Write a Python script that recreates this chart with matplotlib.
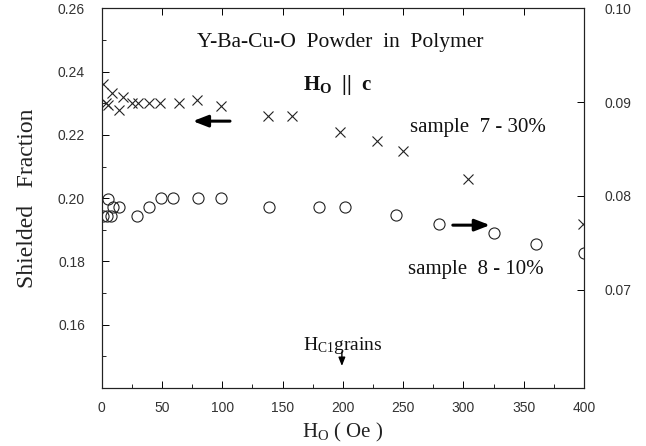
import matplotlib
matplotlib.use("Agg")
import matplotlib.pyplot as plt
from matplotlib.ticker import MultipleLocator, FixedLocator

plt.rcParams['mathtext.fontset'] = 'custom'
plt.rcParams['mathtext.rm'] = 'Liberation Serif'
plt.rcParams['mathtext.bf'] = 'Liberation Serif:bold'
plt.rcParams['mathtext.it'] = 'Liberation Serif:italic'

# sample 7 - 30% (crosses, left axis)
h_cross = [1, 3.6, 5.5, 8.5, 14, 18, 25, 30, 39, 48, 64, 79, 99, 138, 158, 198, 228, 250, 304, 399]
f_cross = [0.236, 0.2302, 0.2295, 0.2333, 0.228, 0.232, 0.230, 0.230, 0.230, 0.230, 0.2302,
           0.231, 0.229, 0.226, 0.226, 0.221, 0.218, 0.215, 0.206, 0.192]

# sample 8 - 10% (circles, right axis)
h_circ = [1.3, 4.1, 7.5, 5.5, 9.1, 14.6, 29.5, 39, 49, 59, 80, 99, 139, 180, 202, 244, 280, 325, 360, 400]
f_circ = [0.0778, 0.0778, 0.0778, 0.0797, 0.0788, 0.0788, 0.0778, 0.0788, 0.0798, 0.0798,
          0.0798, 0.0798, 0.0788, 0.0788, 0.0788, 0.0780, 0.0770, 0.0760, 0.0749, 0.0739]

x_ticks = [0, 50, 100, 150, 200, 250, 300, 350, 400]
left_ticks = [0.16, 0.18, 0.20, 0.22, 0.24, 0.26]
right_ticks = [0.07, 0.08, 0.09, 0.10]

W, H = 646, 446
fig = plt.figure(figsize=(W / 100, H / 100), dpi=100)
ax_l, ax_r, ax_b, ax_t = 101.7, 584, 388, 8.4
ax = fig.add_axes([ax_l / W, 1 - ax_b / H, (ax_r - ax_l) / W, (ax_b - ax_t) / H])
ax2 = ax.twinx()

serif = 'Liberation Serif'
sans = 'Liberation Sans'
tc = '#333333'

ax.plot(h_cross, f_cross, linestyle='none', marker='x', markersize=7.5, mew=0.8,
        color='#222222')
ax2.plot(h_circ, f_circ, linestyle='none', marker='o', markersize=8, mew=0.8,
         mfc='none', mec='#222222')

ax.set_xlim(0, 400)
ax.set_ylim(0.14, 0.26)
ax2.set_ylim(0.0595, 0.100)

ax.xaxis.set_major_locator(FixedLocator(x_ticks))
ax.xaxis.set_minor_locator(MultipleLocator(25))
ax.yaxis.set_major_locator(FixedLocator(left_ticks))
ax.yaxis.set_minor_locator(MultipleLocator(0.01))
ax2.yaxis.set_major_locator(FixedLocator(right_ticks))

ax.set_xticklabels([str(v) for v in x_ticks])
ax.set_yticklabels([f"{v:.2f}" for v in left_ticks])
ax2.set_yticklabels([f"{v:.2f}" for v in right_ticks])

ax.tick_params(axis='both', which='major', direction='in', length=5, width=0.7,
               top=True, right=False, labelsize=10, labelcolor=tc)
ax.tick_params(axis='x', which='major', pad=9)
ax.tick_params(axis='y', which='major', pad=12)
ax.tick_params(axis='both', which='minor', direction='in', length=3, width=0.6,
               top=False, right=False)
ax2.tick_params(axis='y', which='major', direction='in', length=5, width=0.7,
                labelsize=10, labelcolor=tc, pad=15)
for a in (ax, ax2):
    for lab in a.get_xticklabels() + a.get_yticklabels():
        lab.set_fontfamily(sans)
    for s in a.spines.values():
        s.set_linewidth(0.8)
        s.set_color('#222222')

ax.set_xlabel(r'H$_\mathrm{O}$ ( Oe )', fontfamily=serif, fontsize=15, labelpad=5,
              color='#222222')
ax.set_ylabel('Shielded   Fraction', fontfamily=serif, fontsize=17, labelpad=14,
              color='#222222')

tr = ax.transAxes
ax.text(0.494, 0.909, 'Y-Ba-Cu-O  Powder  in  Polymer', transform=tr, ha='center',
        va='center', fontfamily=serif, fontsize=15.5, color='#111111')
ax.text(0.489, 0.798, r'H$_\mathbf{O}$  ||  c', transform=tr, ha='center', va='center',
        fontfamily=serif, fontsize=15, fontweight='bold', color='#111111')
ax.text(0.780, 0.685, 'sample  7 - 30%', transform=tr, ha='center', va='center',
        fontfamily=serif, fontsize=15, color='#111111')
ax.text(0.776, 0.311, 'sample  8 - 10%', transform=tr, ha='center', va='center',
        fontfamily=serif, fontsize=15, color='#111111')
ax.text(0.499, 0.113, r'H$_\mathrm{C1}$grains', transform=tr, ha='center', va='center',
        fontfamily=serif, fontsize=14, color='#111111')

arrow = dict(arrowstyle='-|>,head_length=0.9,head_width=0.35', lw=2.2, color='black',
             shrinkA=0, shrinkB=0)
ax.annotate('', xy=(0.189, 0.703), xytext=(0.266, 0.703), xycoords=tr,
            textcoords=tr, arrowprops=arrow)
ax.annotate('', xy=(0.805, 0.429), xytext=(0.728, 0.429), xycoords=tr,
            textcoords=tr, arrowprops=arrow)
small = dict(arrowstyle='-|>,head_length=0.5,head_width=0.2', lw=1.0, color='black',
             shrinkA=0, shrinkB=0)
ax.annotate('', xy=(0.498, 0.058), xytext=(0.498, 0.095), xycoords=tr,
            textcoords=tr, arrowprops=small)

fig.savefig('out.png', dpi=100)
